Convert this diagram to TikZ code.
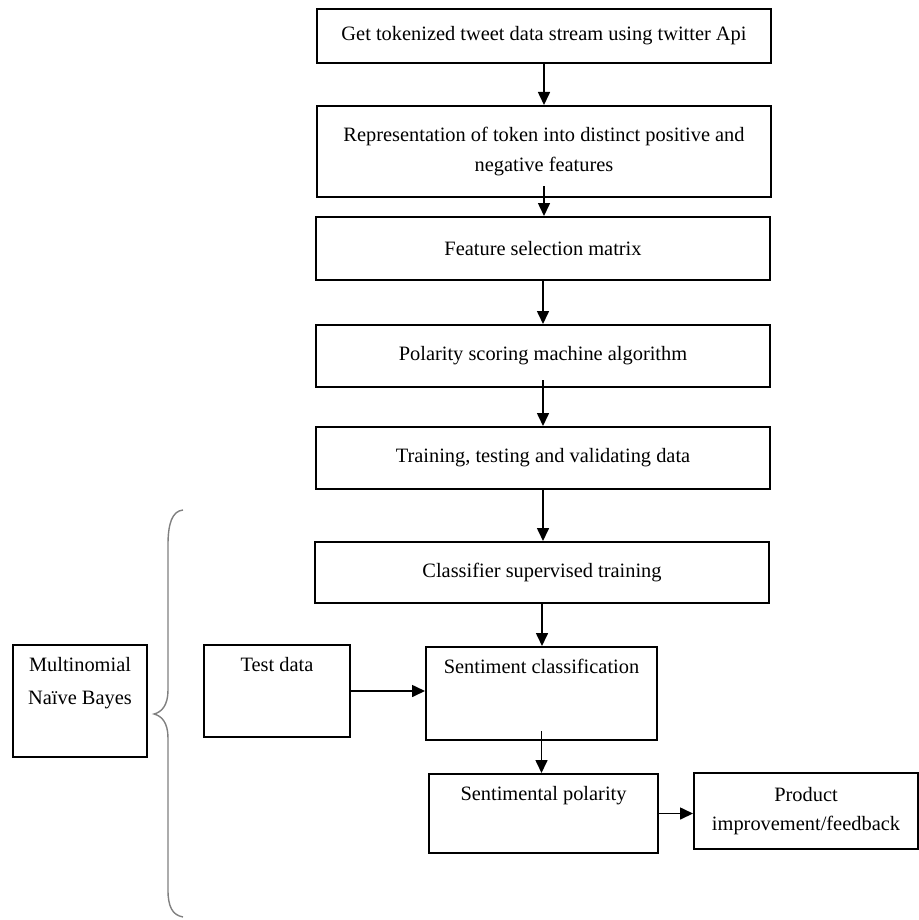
\documentclass[tikz,border=0pt]{standalone}
\usepackage{fontspec}
\setmainfont{Liberation Serif}
\usetikzlibrary{arrows.meta, positioning}

\tikzset{
  procbox/.style={draw, line width=1pt, minimum width=227pt, minimum height=31pt,
    inner sep=2pt, align=center, font=\fontsize{10.2}{15}\selectfont},
  topbox/.style={procbox, inner ysep=0pt, text height=13pt},
  flow/.style={-{Triangle[length=6.5pt,width=6pt]}, line width=0.8pt},
  brace/.style={draw=gray, line width=0.7pt}
}

\begin{document}
\begin{tikzpicture}[x=0.5pt, y=-0.5pt]
            \useasboundingbox (0,0) rectangle (919,920);

            % Preprocessing chain
            \node[procbox, minimum height=27pt] (get) at (544,36) {Get tokenized tweet data stream using twitter Api};
            \node[procbox, minimum height=45.5pt] (repr) at (544,151.5) {Representation of token into distinct positive and\\negative features};
            \node[procbox, minimum height=31.5pt] (feat) at (543,248.5) {Feature selection matrix};
            \node[procbox] (polar) at (543,356) {Polarity scoring machine algorithm};
            \node[procbox] (train) at (543,458) {Training, testing and validating data};
            \node[procbox, minimum height=30.5pt] (clf) at (542,572.5) {Classifier supervised training};

            % Classification part
            \node[topbox, minimum width=73pt, text depth=33pt] (test) at (277,691) {Test data};
            \node[topbox, minimum width=115.5pt, text depth=33.5pt] (sent) at (541.5,693.5) {Sentiment classification};
            \node[topbox, minimum width=114.5pt, text depth=26.5pt] (pol) at (543.5,813.5) {Sentimental polarity};
            \node[procbox, minimum width=112pt, minimum height=38pt, font=\fontsize{10.2}{14.5}\selectfont] (prod) at (806,811) {Product\\improvement/feedback};
            \node[topbox, minimum width=67pt, text height=29.5pt, text depth=26.5pt, font=\fontsize{10.2}{16.5}\selectfont] (mnb) at (80,701) {Multinomial\\Naïve Bayes};

            % Arrows
            \draw[flow] (get.south) -- (get.south |- repr.north);
            \draw[flow] ([yshift=6pt]repr.south) -- (repr.south |- feat.north);
            \draw[flow] (feat.south) -- (feat.south |- polar.north);
            \draw[flow] ([yshift=4pt]polar.south) -- (polar.south |- train.north);
            \draw[flow] (train.south) -- (train.south |- clf.north);
            \draw[flow] (clf.south) -- (clf.south |- sent.north);
            \draw[flow] (test.east) -- (test.east -| sent.west);
            \draw[flow] ([yshift=5pt]sent.south) -- (sent.south |- pol.north);
            \draw[flow] (pol.east) -- (pol.east -| prod.west);

            % Brace
            \draw[brace] (183,510) .. controls (172,511) and (168,524) .. (168,545)
                -- (168,690) .. controls (168,705) and (162,712) .. (154,714)
                .. controls (162,716) and (168,723) .. (168,738)
                -- (168,890) .. controls (168,906) and (172,915) .. (183,917);
        \end{tikzpicture}
\end{document}
